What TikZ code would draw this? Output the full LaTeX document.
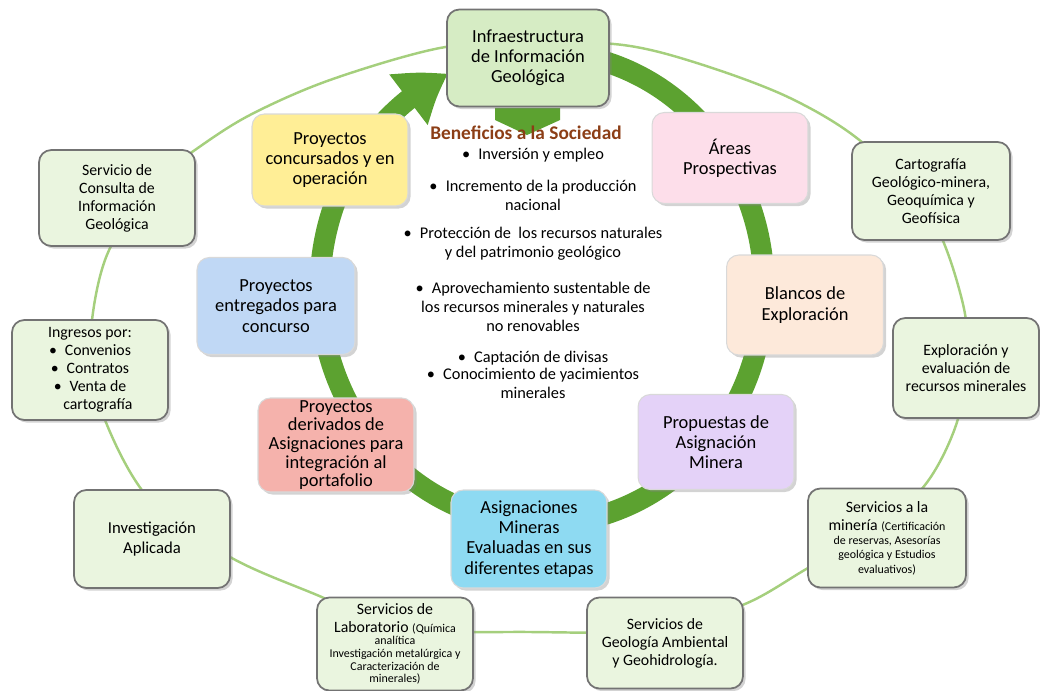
\documentclass[tikz,border=0pt]{standalone}
\usepackage{fontspec}
\setmainfont{Carlito}
\usepackage{tikz}
\usetikzlibrary{arrows.meta}
\usetikzlibrary{shadows}
\usetikzlibrary{bending}

\definecolor{ringgreen}{RGB}{92,162,48}
\definecolor{ovalgreen}{RGB}{165,207,125}
\definecolor{outerfill}{RGB}{234,245,223}
\definecolor{infrafill}{RGB}{214,236,196}
\definecolor{yellowfill}{RGB}{255,238,150}
\definecolor{pinkfill}{RGB}{253,222,234}
\definecolor{peachfill}{RGB}{253,233,218}
\definecolor{lilacfill}{RGB}{228,210,248}
\definecolor{cyanfill}{RGB}{142,218,242}
\definecolor{bluefill}{RGB}{192,216,245}
\definecolor{salmonfill}{RGB}{245,178,172}
\definecolor{benbrown}{RGB}{140,62,22}

\newcommand{\nota}[1]{{\fontsize{6.8}{7.8}\selectfont #1}}

\tikzset{
  box/.style={rounded corners=7pt, align=center, inner sep=2pt,
    minimum width=3.12cm, minimum height=1.92cm,
    drop shadow={opacity=0.35, shadow xshift=1.5pt, shadow yshift=-1.5pt}},
  outerbox/.style={box, draw=black!55, line width=1pt, fill=outerfill,
    font=\fontsize{9}{10.2}\selectfont},
  innerbox/.style={box, draw=black!15, line width=0.6pt,
    font=\fontsize{10.5}{11.5}\selectfont},
  ring/.style={ringgreen, line width=0.42cm,
    -{Triangle[length=0.95cm, width=1.2cm, bend]}},
}

\begin{document}
\begin{tikzpicture}[x=0.02cm, y=0.02cm]
  \useasboundingbox (0,0) rectangle (1040,690);

  % outer oval and inner cycle arrow
  \draw[ovalgreen, line width=1.4pt] plot[smooth cycle, tension=0.55] coordinates {
    (528,648) (623,645) (700,626) (790,592) (863,547) (930,475) (962,390)
    (968,325) (955,262) (925,205) (875,160) (808,122) (745,86) (660,60)
    (530,58) (400,62) (317,95) (230,133) (150,190) (105,270) (90,340)
    (105,430) (150,505) (195,540) (250,575) (330,610) (440,642)};
  \coordinate (ringc) at (542,402);
  \draw[ring] ([shift={(80:222 and 236)}]ringc)
    arc [start angle=80, end angle=-245, x radius=222, y radius=236];
  \fill[ringgreen] (495,582) -- (560,582) -- (560,570) -- (527,555) -- (495,570) -- cycle;

  % cycle
  \node[outerbox, fill=infrafill, minimum width=3.24cm, minimum height=1.94cm,
    font=\fontsize{10.5}{11.5}\selectfont] (infra) at (528,632)
    {Infraestructura\\de Información\\Geológica};
  \node[innerbox, fill=yellowfill, minimum height=1.84cm] (concursados) at (330,530)
    {Proyectos\\concursados y en\\operación};
  \node[innerbox, fill=pinkfill, minimum height=1.82cm] (areas) at (730,532)
    {Áreas\\Prospectivas};
  \node[innerbox, fill=peachfill, minimum width=3.14cm, minimum height=2cm] (blancos) at (805,385)
    {Blancos de\\Exploración};
  \node[innerbox, fill=lilacfill, minimum height=1.9cm] (propuestas) at (716,248)
    {Propuestas de\\Asignación\\Minera};
  \node[innerbox, fill=cyanfill, minimum height=1.96cm] (asignaciones) at (529,151)
    {Asignaciones\\Mineras\\Evaluadas en sus\\diferentes etapas};
  \node[innerbox, fill=salmonfill, minimum height=1.88cm, inner sep=1pt,
    font=\fontsize{10.5}{10.6}\selectfont] (derivados) at (336,245)
    {Proyectos\\derivados de\\Asignaciones para\\integración al\\portafolio};
  \node[innerbox, fill=bluefill, minimum width=3.16cm, minimum height=1.94cm] (entregados) at (276,384)
    {Proyectos\\entregados para\\concurso};

  % services around
  \node[outerbox] (consulta) at (117,492)
    {Servicio de\\Consulta de\\Información\\Geológica};
  \node[outerbox, minimum height=2cm] (ingresos) at (90,320)
    {Ingresos por:\\\textbullet\enspace Convenios\\\textbullet\enspace Contratos\\\textbullet\enspace Venta de\\\quad cartografía};
  \node[outerbox, minimum height=1.96cm, font=\fontsize{9.5}{11}\selectfont] (investigacion) at (152,151)
    {Investigación\\Aplicada};
  \node[outerbox, minimum height=1.86cm] (laboratorio) at (395,46)
    {Servicios de\\Laboratorio \nota{(Química}\\[-3pt]\nota{analítica}\\[-3pt]
     \nota{Investigación metalúrgica y}\\[-3pt]\nota{Caracterización de}\\[-3pt]\nota{minerales)}};
  \node[outerbox, minimum height=1.82cm] (geologia) at (665,47)
    {Servicios de\\Geología Ambiental\\y Geohidrología.};
  \node[outerbox, minimum width=3.16cm, minimum height=1.98cm] (mineria) at (887,152)
    {Servicios a la\\minería \nota{(Certificación}\\[-2pt]\nota{de reservas, Asesorías}\\[-2pt]
     \nota{geológica y Estudios}\\[-2pt]\nota{evaluativos)}};
  \node[outerbox, minimum width=2.92cm, minimum height=2cm] (exploracion) at (966,322)
    {Exploración y\\evaluación de\\recursos minerales};
  \node[outerbox, minimum width=3.16cm, minimum height=1.96cm] (cartografia) at (931,499)
    {Cartografía\\Geológico-minera,\\Geoquímica y\\Geofísica};

  % benefits
  \node[text=benbrown, font=\fontsize{11}{12}\selectfont\bfseries, inner sep=0pt] (beneficios) at (526,557)
    {Beneficios a la Sociedad};
  \node[anchor=north, align=center, inner sep=0pt, font=\fontsize{9.3}{10.8}\selectfont] (lista) at (533,542)
    {\textbullet\enspace Inversión y empleo\\[0.26cm]
     \textbullet\enspace Incremento de la producción\\nacional\\[0.18cm]
     \textbullet\enspace Protección de\ \ los recursos naturales\\y del patrimonio geológico\\[0.34cm]
     \textbullet\enspace Aprovechamiento sustentable de\\los recursos minerales y naturales\\no renovables\\[0.24cm]
     \textbullet\enspace Captación de divisas\\[-0.04cm]
     \textbullet\enspace Conocimiento de yacimientos\\minerales};
\end{tikzpicture}
\end{document}
